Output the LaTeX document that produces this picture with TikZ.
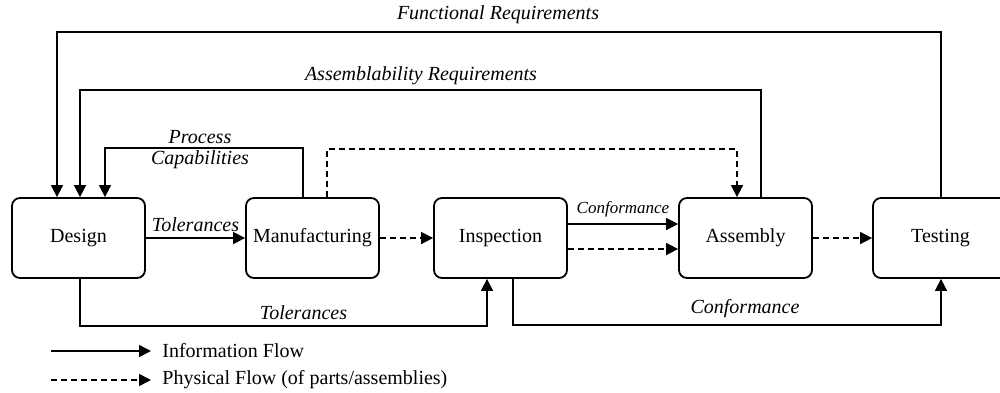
\documentclass[tikz,border=0pt]{standalone}
\usepackage{fontspec}
\setmainfont{Liberation Serif}
\usetikzlibrary{arrows.meta,calc}
\tikzset{
  stage/.style={draw, line width=0.9pt, rounded corners=4pt, minimum width=66.5pt,
    minimum height=40pt, font=\fontsize{10}{12}\selectfont, inner sep=1pt},
  info/.style={line width=0.8pt, -{Triangle[length=6pt,width=6pt]}},
  phys/.style={info, dash pattern=on 3pt off 2pt},
  lbl/.style={font=\fontsize{10}{12}\selectfont\itshape, inner sep=0pt},
  legtext/.style={font=\fontsize{10}{12}\selectfont, anchor=west, inner sep=0pt}
}
\begin{document}
\begin{tikzpicture}[x=0.5pt, y=-0.5pt]
\useasboundingbox (0,0) rectangle (1000,392);

% stages
\node [stage] (design) at (78.5,238) {Design};
\node [stage] (manuf) at (312.5,238) {Manufacturing};
\node [stage] (insp) at (500.5,238) {Inspection};
\node [stage] (assy) at (745.5,238) {Assembly};
\node [stage, minimum width=67.5pt] (test) at (940.5,238) {Testing};

% routing points
\coordinate (fr) at (57,32);
\coordinate (ar) at (80,90);
\coordinate (pc) at (105,148);
\coordinate (frup) at (941,32);
\coordinate (arup) at (761,90);
\coordinate (pcup) at (303,148);
\coordinate (phup) at (327,149);
\coordinate (phdn) at (737,149);
\coordinate (tolbot) at (80,326);
\coordinate (tolin) at (487,326);
\coordinate (conbot) at (513,325);
\coordinate (conin) at (941,325);

% feedback to design
\draw [info] (test.north -| frup) -- (frup) -- (fr) -- (design.north -| fr);
\draw [info] (assy.north -| arup) -- (arup) -- (ar) -- (design.north -| ar);
\draw [info] (manuf.north -| pcup) -- (pcup) -- (pc) -- (design.north -| pc);
\node [lbl] (frlbl) at (498,15) {Functional Requirements};
\node [lbl] (arlbl) at (421,76) {Assemblability Requirements};
\node [lbl] (pclbl1) at (200,137) {Process};
\node [lbl] (pclbl2) at (200,160) {Capabilities};

% physical flow across the top
\draw [phys] (manuf.north -| phup) -- (phup) -- (phdn) -- (assy.north -| phdn);

% main row
\draw [info] (design) -- node [lbl, above=3pt] (tol1) {Tolerances} (manuf);
\draw [phys] (manuf) -- (insp);
\draw [info] (insp.east |- 0,224) -- node [lbl, above=3pt, font=\fontsize{8.5}{10}\selectfont\itshape] (con1) {Conformance} (assy.west |- 0,224);
\draw [phys] (insp.east |- 0,249) -- (assy.west |- 0,249);
\draw [phys] (assy) -- (test);

% bottom routes
\draw [info] (design.south -| tolbot) -- (tolbot) -- node [lbl, above=3pt, xshift=10pt] (tol2) {Tolerances} (tolin) -- (insp.south -| tolin);
\draw [info] (insp.south -| conbot) -- (conbot) -- node [lbl, above=3pt, xshift=9pt] (con2) {Conformance} (conin) -- (test.south -| conin);

% legend
\coordinate (l1a) at (51,351);
\coordinate (l1b) at (151,351);
\coordinate (l2a) at (51,380);
\coordinate (l2b) at (151,380);
\draw [info] (l1a) -- (l1b);
\draw [phys] (l2a) -- (l2b);
\node [legtext] (leg1) at (162,351) {Information Flow};
\node [legtext] (leg2) at (162,380) {Physical Flow (of parts/assemblies)};
\end{tikzpicture}
\end{document}
